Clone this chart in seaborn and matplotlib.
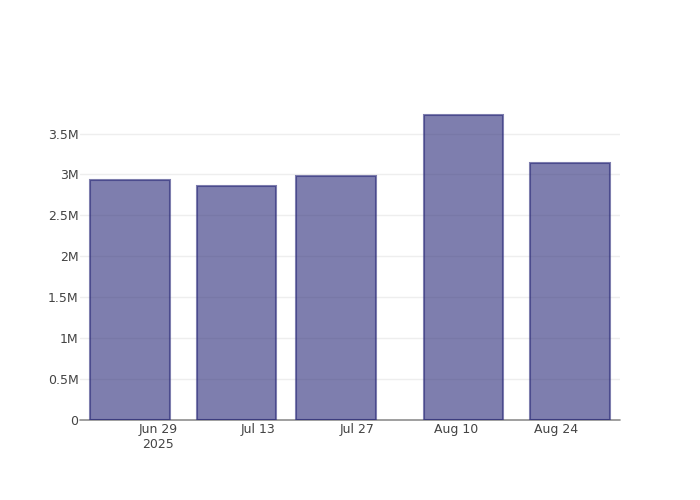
import pandas as pd
import numpy as np
import seaborn as sns
import matplotlib
matplotlib.use("Agg")
import matplotlib.pyplot as plt
import matplotlib.dates as mdates

# data
bar_dates = ["2025-06-25", "2025-07-10", "2025-07-24", "2025-08-11", "2025-08-26"]
bar_values = [2.937e6, 2.860e6, 2.982e6, 3.724e6, 3.142e6]

tick_dates = ["2025-06-29", "2025-07-13", "2025-07-27", "2025-08-10", "2025-08-24"]
tick_labels = ["Jun 29\n2025", "Jul 13", "Jul 27", "Aug 10", "Aug 24"]

y_ticks = [0, 0.5e6, 1e6, 1.5e6, 2e6, 2.5e6, 3e6, 3.5e6]
y_labels = ["0", "0.5M", "1M", "1.5M", "2M", "2.5M", "3M", "3.5M"]

sns.set_style("white")
plt.rcParams["font.family"] = ["DejaVu Sans"]

x_num = mdates.date2num(pd.to_datetime(bar_dates))
df = pd.DataFrame({"date": x_num, "value": bar_values})

fig = plt.figure(figsize=(7, 5), dpi=100)
ax = fig.add_axes([80 / 700, 80 / 500, 540 / 700, 320 / 500])

# gridlines and zero line behind the bars
for yt in y_ticks[1:]:
    ax.axhline(yt, color="#eeeeee", lw=1, zorder=0)
ax.axhline(0, color="#444444", lw=1.2, alpha=0.6, zorder=0.5, clip_on=False)

sns.barplot(data=df, x="date", y="value", native_scale=True, errorbar=None,
            color=(0.16, 0.16, 0.47), saturation=1, alpha=0.6,
            edgecolor=(0.16, 0.16, 0.47), linewidth=1.5, width=0.8, ax=ax,
            zorder=2)

start = mdates.date2num(pd.Timestamp("2025-06-18"))
end = mdates.date2num(pd.Timestamp("2025-09-02"))
ax.set_xlim(start, end)
ax.set_ylim(0, 3.91e6)

ax.set_xticks(mdates.date2num(pd.to_datetime(tick_dates)))
ax.set_xticklabels(tick_labels, color="#444444", fontsize=9)
ax.set_yticks(y_ticks)
ax.set_yticklabels(y_labels, color="#444444", fontsize=9)
ax.tick_params(axis="both", length=0)
ax.tick_params(axis="y", pad=1)
ax.tick_params(axis="x", pad=2)
ax.set_xlabel("")
ax.set_ylabel("")
sns.despine(ax=ax, left=True, bottom=True)

fig.savefig("out.png", dpi=100)
